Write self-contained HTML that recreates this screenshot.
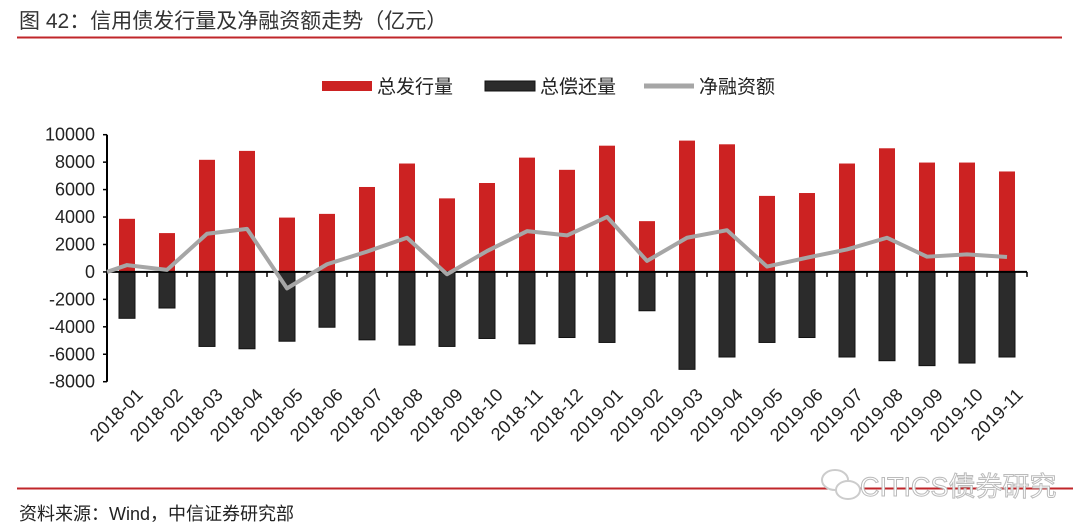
<!DOCTYPE html>
<html><head><meta charset="utf-8"><style>
body{margin:0;width:1080px;height:529px;background:#fff;overflow:hidden;font-family:"Liberation Sans","Noto Sans CJK SC",sans-serif;}
svg{display:block}
</style></head><body>
<svg id="c" width="1080" height="529" font-family="Liberation Sans, Noto Sans CJK SC, sans-serif">
<text x="19" y="28" font-size="21" fill="#333">图 42：信用债发行量及净融资额走势（亿元）</text>
<line x1="17" y1="37.5" x2="1062" y2="37.5" stroke="#c0262a" stroke-width="2"/>
<g>
<g><rect x="322" y="81" width="50" height="10" fill="#cc2222"/><text x="377" y="93" font-size="19" fill="#222">总发行量</text></g>
<g><rect x="485" y="81" width="50" height="10" fill="#2b2b2b" stroke="#111"/><text x="540" y="93" font-size="19" fill="#222">总偿还量</text></g>
<g><line x1="644" y1="86" x2="694" y2="86" stroke="#a6a6a6" stroke-width="5"/><text x="699" y="93" font-size="19" fill="#222">净融资额</text></g>
</g>
<g id="plot"></g>
<line x1="17" y1="488.5" x2="1073" y2="488.5" stroke="#c0262a" stroke-width="2"/>
<g>
<ellipse cx="835" cy="480" rx="13" ry="10" fill="#fff" stroke="#ccc" stroke-width="2"/>
<ellipse cx="848" cy="490" rx="12" ry="9" fill="#fff" stroke="#ccc" stroke-width="2"/>
<text x="860" y="496" font-size="27" fill="#fff" stroke="#bbb" stroke-width="1">CITICS债券研究</text>
</g>
<text x="19" y="520" font-size="18" fill="#222">资料来源：Wind，中信证券研究部</text>
</svg>
<script>
const categories=["2018-01","2018-02","2018-03","2018-04","2018-05","2018-06","2018-07","2018-08","2018-09","2018-10","2018-11","2018-12","2019-01","2019-02","2019-03","2019-04","2019-05","2019-06","2019-07","2019-08","2019-09","2019-10","2019-11"];
const issuance=[3870,2830,8170,8820,3960,4230,6190,7900,5360,6480,8330,7440,9200,3700,9570,9300,5540,5750,7900,9010,7970,7970,7320];
const repayment=[-3380,-2630,-5430,-5600,-5050,-4030,-4950,-5330,-5430,-4850,-5240,-4780,-5140,-2830,-7100,-6200,-5140,-4780,-6200,-6470,-6830,-6640,-6200];
const netFinancing=[500,150,2780,3140,-1200,560,1480,2490,-170,1520,2970,2660,4010,800,2490,3040,390,1040,1640,2490,1110,1280,1090];
const yTicks=[10000,8000,6000,4000,2000,0,-2000,-4000,-6000,-8000];
const NS="http://www.w3.org/2000/svg";
const g=document.getElementById('plot');
const X0=107,X1=1027,Y0=134.7,Y1=381.7,yMax=10000,yMin=-8000;
const y=v=>Y0+(yMax-v)/(yMax-yMin)*(Y1-Y0);
const bw=(X1-X0)/categories.length;
const xc=i=>X0+bw*(i+0.5);
function el(t,a){const e=document.createElementNS(NS,t);for(const k in a)e.setAttribute(k,a[k]);g.appendChild(e);return e;}
issuance.forEach((v,i)=>{const r=el('rect',{x:xc(i)-8,y:Math.min(y(v),y(0)),width:16,height:Math.abs(y(v)-y(0)),fill:'#cc2222'});

});
repayment.forEach((v,i)=>{const r=el('rect',{x:xc(i)-8,y:Math.min(y(v),y(0)),width:16,height:Math.abs(y(v)-y(0)),fill:'#2b2b2b',stroke:'#111','stroke-width':1});

});
const ax=el('line',{x1:X0,y1:Y0,x2:X0,y2:Y1,stroke:'#000','stroke-width':2});


yTicks.forEach(v=>{el('line',{x1:X0-4,y1:y(v),x2:X0,y2:y(v),stroke:'#000','stroke-width':1.5});
const t=el('text',{x:X0-12,y:y(v)+6,'text-anchor':'end','font-size':18,fill:'#222'});t.textContent=v;

});
const xa=el('line',{x1:X0,y1:y(0),x2:X1,y2:y(0),stroke:'#000','stroke-width':2});


for(let i=0;i<=categories.length;i++)el('line',{x1:X0+bw*i,y1:y(0),x2:X0+bw*i,y2:y(0)+5,stroke:'#000','stroke-width':1.5});
const pts=netFinancing.map((v,i)=>xc(i)+','+y(v)).join(' ');
const pl=el('polyline',{points:X0+','+y(0)+' '+pts,fill:'none',stroke:'#a6a6a6','stroke-width':4,'stroke-linejoin':'round'});


categories.forEach((c,i)=>{const tx=xc(i)+17,ty=y(0)+124;
const t=el('text',{x:tx,y:ty,'text-anchor':'end','font-size':18,fill:'#222',transform:`rotate(-45 ${tx} ${ty})`});t.textContent=c;

});
</script>
</body></html>
